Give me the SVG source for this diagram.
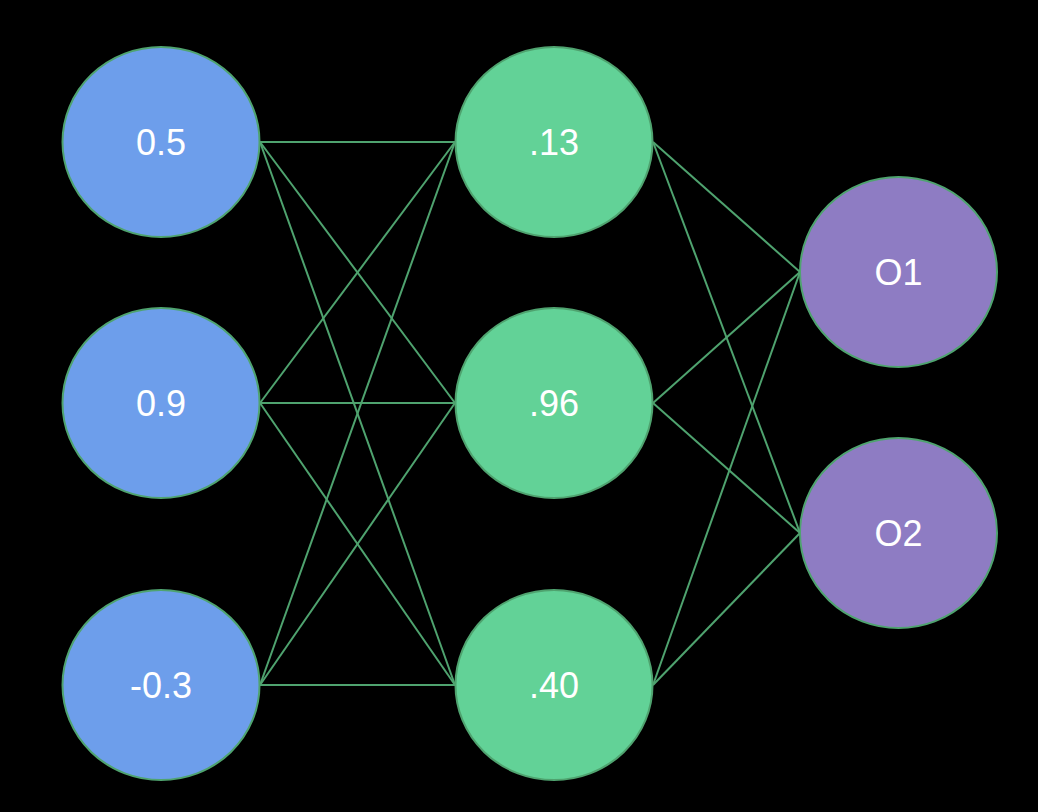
<svg xmlns="http://www.w3.org/2000/svg" width="1038" height="812" viewBox="0 0 1038 812">
<style>
.n{stroke:#4fa36f;stroke-width:2}
.in{fill:#6d9eeb}
.hd{fill:#62d297}
.out{fill:#8e7cc3}
.t{fill:#ffffff;font-family:"Liberation Sans",Arial,sans-serif;font-size:36px;text-anchor:middle;dominant-baseline:central}
.e{stroke:#4fa36f;stroke-width:2;fill:none}
</style>
<rect width="1038" height="812" fill="#000"/>
<g id="connectors">
<line class="e" x1="260" y1="142" x2="455" y2="142"/>
<line class="e" x1="260" y1="142" x2="455" y2="403"/>
<line class="e" x1="260" y1="142" x2="455" y2="685"/>
<line class="e" x1="260" y1="403" x2="455" y2="142"/>
<line class="e" x1="260" y1="403" x2="455" y2="403"/>
<line class="e" x1="260" y1="403" x2="455" y2="685"/>
<line class="e" x1="260" y1="685" x2="455" y2="142"/>
<line class="e" x1="260" y1="685" x2="455" y2="403"/>
<line class="e" x1="260" y1="685" x2="455" y2="685"/>
<line class="e" x1="653" y1="142" x2="800" y2="272"/>
<line class="e" x1="653" y1="142" x2="800" y2="533"/>
<line class="e" x1="653" y1="403" x2="800" y2="272"/>
<line class="e" x1="653" y1="403" x2="800" y2="533"/>
<line class="e" x1="653" y1="685" x2="800" y2="272"/>
<line class="e" x1="653" y1="685" x2="800" y2="533"/>
</g>
<g id="i1"><ellipse class="n in" cx="161" cy="142" rx="98.5" ry="95"/><text class="t" x="161" y="142">0.5</text></g>
<g id="i2"><ellipse class="n in" cx="161" cy="403" rx="98.5" ry="95"/><text class="t" x="161" y="403">0.9</text></g>
<g id="i3"><ellipse class="n in" cx="161" cy="685" rx="98.5" ry="95"/><text class="t" x="161" y="685">-0.3</text></g>
<g id="h1"><ellipse class="n hd" cx="554" cy="142" rx="98.5" ry="95"/><text class="t" x="554" y="142">.13</text></g>
<g id="h2"><ellipse class="n hd" cx="554" cy="403" rx="98.5" ry="95"/><text class="t" x="554" y="403">.96</text></g>
<g id="h3"><ellipse class="n hd" cx="554" cy="685" rx="98.5" ry="95"/><text class="t" x="554" y="685">.40</text></g>
<g id="o1"><ellipse class="n out" cx="898.5" cy="272" rx="98.5" ry="95"/><text class="t" x="898.5" y="272">O1</text></g>
<g id="o2"><ellipse class="n out" cx="898.5" cy="533" rx="98.5" ry="95"/><text class="t" x="898.5" y="533">O2</text></g>
</svg>
